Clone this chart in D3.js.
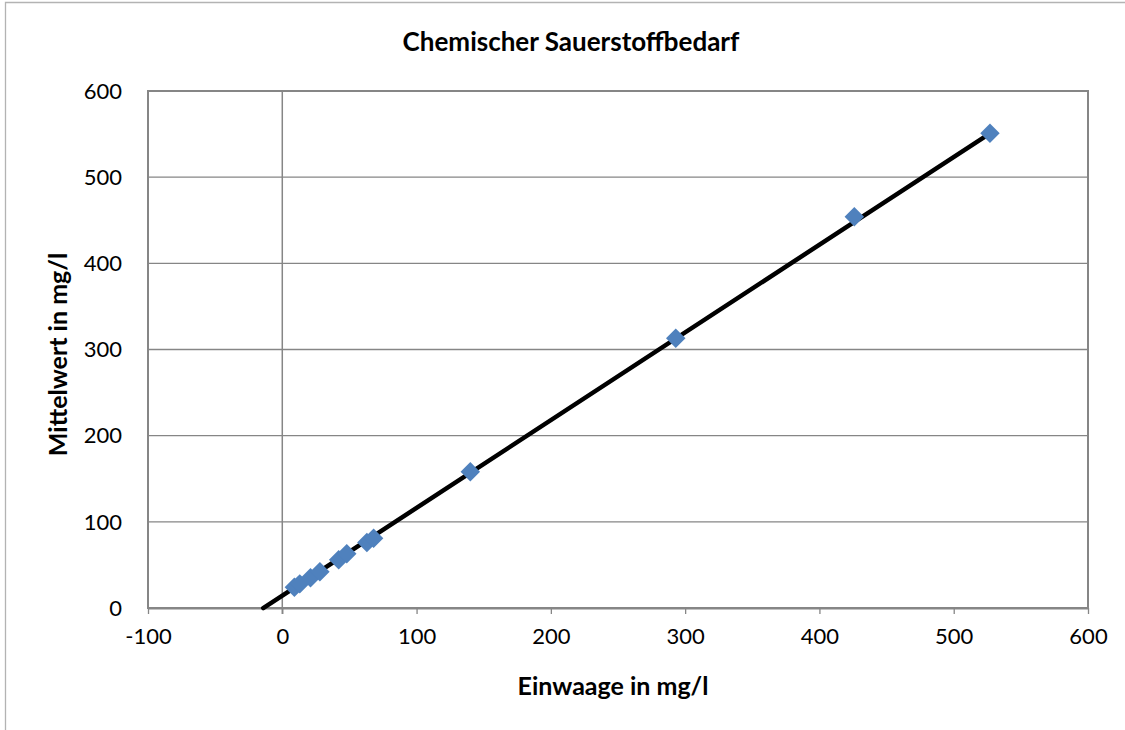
<!DOCTYPE html>
<html>
<head>
<meta charset="utf-8">
<script src="https://cdn.jsdelivr.net/npm/d3@7"></script>
<style>
  body { margin: 0; background: #fff; }
  svg { display: block; font-family: Lato, 'Open Sans', sans-serif; }
</style>
</head>
<body>
<div id="chart"></div>
<script>
// Messwerte: Einwaage (x) gegen Mittelwert (y), beide in mg/l
const einwaage = [9, 13, 21, 28, 42, 48, 63, 68, 140, 293, 426, 527]
const mittelwert = [24, 28, 35, 42, 56, 63, 76, 81, 158, 313, 454, 551]

// lineare Trendlinie
const trendSlope = 1.018
const trendIntercept = 14.4
const trendRange = [-14.2, 527]

const xTicks = [-100, 0, 100, 200, 300, 400, 500, 600]
const yTicks = [0, 100, 200, 300, 400, 500, 600]

const title = 'Chemischer Sauerstoffbedarf'
const xTitle = 'Einwaage in mg/l'
const yTitle = 'Mittelwert in mg/l'

const dimensions = {
  width: 1125,
  height: 730,
  plot: { left: 148, right: 1088, top: 91, bottom: 608 },
}
const gridColor = '#868686'
const markerColor = '#4f81bd'

const svg = d3.select('#chart')
  .append('svg')
  .attr('width', dimensions.width)
  .attr('height', dimensions.height)

const p = dimensions.plot

const x = d3.scaleLinear()
  .domain([-100, 600])
  .range([p.left, p.right])

const y = d3.scaleLinear()
  .domain([0, 600])
  .range([p.bottom, p.top])

// Rahmen des Diagrammbereichs (nur links und oben sichtbar)
svg.append('path')
  .attr('d', `M5.5,${dimensions.height} V2.5 H${dimensions.width}`)
  .attr('fill', 'none')
  .attr('stroke', '#b3b3b3')
  .attr('stroke-width', 1.3)

// horizontale Gitternetzlinien
svg.append('g')
  .selectAll('line')
  .data(yTicks)
  .join('line')
  .attr('x1', p.left)
  .attr('x2', p.right)
  .attr('y1', d => y(d))
  .attr('y2', d => y(d))
  .attr('stroke', gridColor)
  .attr('stroke-width', 1.3)

// Plotrahmen
svg.append('rect')
  .attr('x', p.left)
  .attr('y', p.top)
  .attr('width', p.right - p.left)
  .attr('height', p.bottom - p.top)
  .attr('fill', 'none')
  .attr('stroke', gridColor)
  .attr('stroke-width', 2)

// x-Achse mit Teilstrichen nach unten
const xAxis = svg.append('g')
  .attr('transform', `translate(0,${p.bottom})`)
  .call(d3.axisBottom(x)
    .tickValues(xTicks)
    .tickFormat(d => String(d))
    .tickSize(6)
    .tickSizeOuter(0)
    .tickPadding(14))
xAxis.select('.domain').attr('stroke', gridColor).attr('stroke-width', 2)
xAxis.selectAll('.tick line').attr('stroke', gridColor).attr('stroke-width', 1.3)
xAxis.selectAll('.tick text')
  .attr('font-size', 22)
  .attr('font-family', 'Lato, sans-serif')
  .attr('fill', '#000')

// y-Achse schneidet bei x = 0, Beschriftung links am Plotrand
svg.append('line')
  .attr('x1', x(0))
  .attr('x2', x(0))
  .attr('y1', p.top)
  .attr('y2', p.bottom + 6)
  .attr('stroke', gridColor)
  .attr('stroke-width', 1.5)

svg.append('g')
  .selectAll('text')
  .data(yTicks)
  .join('text')
  .attr('x', p.left - 26)
  .attr('y', d => y(d))
  .attr('dy', '0.35em')
  .attr('text-anchor', 'end')
  .attr('font-size', 22)
  .text(d => d)

// Trendlinie
svg.append('line')
  .attr('x1', x(trendRange[0]))
  .attr('y1', y(trendSlope * trendRange[0] + trendIntercept))
  .attr('x2', x(trendRange[1]))
  .attr('y2', y(trendSlope * trendRange[1] + trendIntercept))
  .attr('stroke', '#000')
  .attr('stroke-width', 4.5)
  .attr('stroke-linecap', 'round')

// Messpunkte als Rauten
const diamond = d3.symbol().type(d3.symbolSquare).size(190)
svg.append('g')
  .selectAll('path')
  .data(einwaage.map((d, i) => ({ x: d, y: mittelwert[i] })))
  .join('path')
  .attr('d', diamond)
  .attr('transform', d => `translate(${x(d.x)},${y(d.y)}) rotate(45)`)
  .attr('fill', markerColor)

// Titel
svg.append('text')
  .attr('x', 571)
  .attr('y', 42)
  .attr('dy', '0.35em')
  .attr('text-anchor', 'middle')
  .attr('font-size', 26)
  .attr('font-weight', 'bold')
  .text(title)

svg.append('text')
  .attr('x', (p.left + p.right) / 2 - 5)
  .attr('y', 686)
  .attr('dy', '0.35em')
  .attr('text-anchor', 'middle')
  .attr('font-size', 25)
  .attr('font-weight', 'bold')
  .text(xTitle)

svg.append('text')
  .attr('transform', `translate(58,${(p.top + p.bottom) / 2 + 5}) rotate(-90)`)
  .attr('dy', '0.35em')
  .attr('text-anchor', 'middle')
  .attr('font-size', 25)
  .attr('font-weight', 'bold')
  .text(yTitle)
</script>
</body>
</html>
